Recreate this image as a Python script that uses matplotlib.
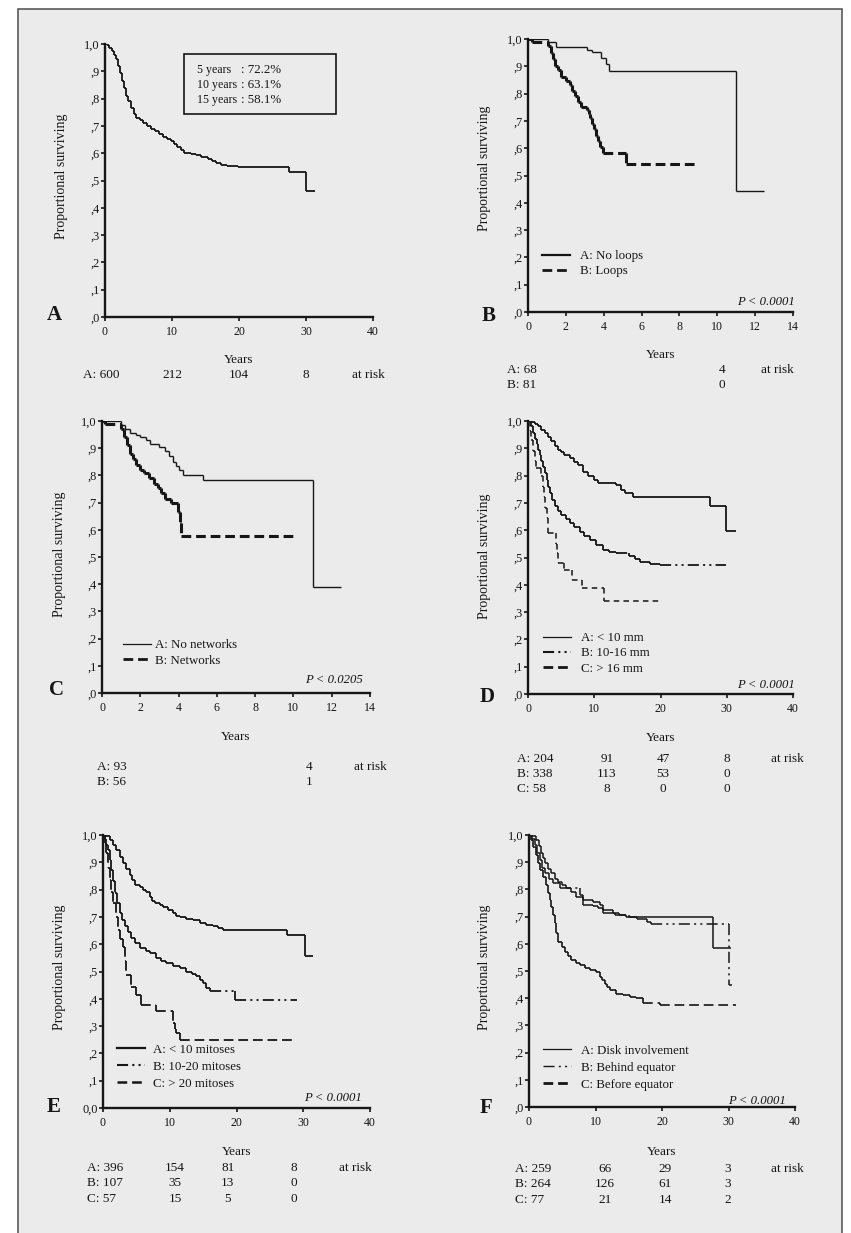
import matplotlib
matplotlib.use("Agg")
import matplotlib.pyplot as plt
from matplotlib.collections import LineCollection
from matplotlib.lines import Line2D
from matplotlib.patches import Rectangle

plt.rcParams['font.family'] = ['Liberation Serif', 'DejaVu Serif']
plt.rcParams['lines.scale_dashes'] = False

# ---------------- data ----------------
# Panel A: whole series
A_all_t = [0, 0.3, 0.6, 1.0, 1.3, 1.6, 2.0, 2.3, 2.6, 2.9, 3.2, 3.5, 3.9, 4.3, 4.7, 5.2, 5.7, 6.3, 6.9,
           7.5, 8.0, 8.6, 9.2, 9.8, 10.3, 10.8, 11.3, 11.8, 12.8, 13.6, 14.3, 15.3, 15.9, 16.6, 17.3,
           18.2, 19.0, 19.9, 27.4, 30.0, 31.3]
A_all_s = [1.0, 0.995, 0.985, 0.975, 0.96, 0.945, 0.92, 0.895, 0.865, 0.84, 0.81, 0.79, 0.765, 0.745,
           0.73, 0.72, 0.71, 0.70, 0.69, 0.68, 0.67, 0.66, 0.652, 0.643, 0.633, 0.622, 0.61, 0.60,
           0.597, 0.592, 0.585, 0.58, 0.572, 0.564, 0.558, 0.553, 0.552, 0.548, 0.532, 0.463, 0.463]
A_summary = ["5 years", "10 years", "15 years"]
A_summary_val = [": 72.2%", ": 63.1%", ": 58.1%"]

# Panel B: loops
B_noloops_t = [0, 1.07, 1.5, 3.1, 3.4, 3.85, 4.1, 4.3, 11.0, 12.45]
B_noloops_s = [1.0, 0.99, 0.972, 0.96, 0.951, 0.93, 0.91, 0.884, 0.444, 0.444]
B_loops_t = [0, 0.2, 1.07, 1.2, 1.3, 1.45, 1.6, 1.75, 2.0, 2.2, 2.35, 2.5, 2.65, 2.8, 3.1, 3.2, 3.3,
             3.4, 3.5, 3.6, 3.7, 3.8, 3.95, 5.2, 9.0]
B_loops_s = [1.0, 0.99, 0.975, 0.95, 0.925, 0.90, 0.885, 0.86, 0.845, 0.83, 0.81, 0.79, 0.77, 0.75,
             0.74, 0.725, 0.71, 0.69, 0.67, 0.645, 0.625, 0.605, 0.584, 0.542, 0.542]

# Panel C: networks
C_nonet_t = [0, 1.0, 1.2, 1.45, 1.75, 2.0, 2.3, 2.5, 3.0, 3.3, 3.5, 3.7, 3.85, 4.0, 4.25, 5.3, 11.04, 12.5]
C_nonet_s = [1.0, 0.985, 0.97, 0.955, 0.948, 0.94, 0.93, 0.915, 0.905, 0.89, 0.87, 0.85, 0.835, 0.82,
             0.80, 0.783, 0.391, 0.391]
C_net_t = [0, 0.15, 1.0, 1.15, 1.3, 1.45, 1.6, 1.8, 2.0, 2.2, 2.45, 2.7, 2.9, 3.1, 3.3, 3.6, 3.95,
           4.05, 4.15, 10.1]
C_net_s = [1.0, 0.99, 0.97, 0.94, 0.91, 0.88, 0.86, 0.84, 0.82, 0.81, 0.79, 0.77, 0.755, 0.735, 0.715,
           0.70, 0.665, 0.625, 0.579, 0.579]

# Panel D: tumour size
D_small_t = [0, 0.5, 1.0, 1.5, 2.0, 2.5, 3.0, 3.5, 4.0, 4.5, 5.0, 5.5, 6.3, 7.0, 7.5, 8.3, 9.0, 10.0,
             10.6, 13.3, 14.1, 14.6, 15.8, 27.4, 29.9, 31.4]
D_small_s = [1.0, 0.997, 0.99, 0.98, 0.967, 0.955, 0.94, 0.925, 0.91, 0.895, 0.885, 0.875, 0.863, 0.85,
             0.84, 0.815, 0.80, 0.785, 0.772, 0.766, 0.748, 0.735, 0.723, 0.687, 0.598, 0.598]
D_mid_t = [0, 0.4, 0.75, 1.0, 1.3, 1.5, 1.8, 2.0, 2.3, 2.5, 2.8, 3.0, 3.3, 3.6, 4.0, 4.5, 5.0, 5.7, 6.3,
           7.0, 7.8, 8.5, 9.3, 10.3, 11.3, 12.3, 13.3, 15.3, 16.2, 16.9, 18.4, 19.9, 29.9]
D_mid_s = [1.0, 0.98, 0.955, 0.935, 0.915, 0.895, 0.875, 0.855, 0.833, 0.81, 0.785, 0.76, 0.735, 0.71,
           0.687, 0.67, 0.656, 0.64, 0.626, 0.61, 0.595, 0.58, 0.565, 0.546, 0.528, 0.52, 0.516, 0.506,
           0.495, 0.485, 0.476, 0.473, 0.473]
D_large_t = [0, 0.25, 0.5, 0.75, 1.0, 1.26, 2.0, 2.2, 2.4, 2.6, 2.8, 3.0, 4.2, 4.45, 4.55, 5.38, 6.69,
             8.2, 11.4, 19.9]
D_large_s = [1.0, 0.965, 0.93, 0.89, 0.855, 0.827, 0.80, 0.76, 0.72, 0.68, 0.644, 0.589, 0.55, 0.516,
             0.479, 0.455, 0.418, 0.388, 0.341, 0.341]

# Panel E: mitoses
E_low_t = [0, 0.5, 1.0, 1.5, 2.0, 2.5, 3.0, 3.5, 4.0, 4.4, 4.75, 5.5, 6.0, 6.5, 7.0, 7.4, 7.75, 8.5, 9.0,
           9.8, 10.5, 11.0, 11.5, 12.5, 13.5, 14.5, 15.5, 16.5, 17.3, 18.0, 27.5, 30.25, 31.5]
E_low_s = [1.0, 0.995, 0.982, 0.965, 0.945, 0.92, 0.896, 0.875, 0.854, 0.835, 0.817, 0.81, 0.80, 0.79,
           0.774, 0.76, 0.75, 0.742, 0.735, 0.725, 0.713, 0.705, 0.698, 0.692, 0.689, 0.677, 0.672,
           0.665, 0.658, 0.652, 0.634, 0.555, 0.555]
E_mid_t = [0, 0.3, 0.5, 0.75, 1.0, 1.25, 1.5, 1.75, 2.1, 2.5, 2.9, 3.25, 3.7, 4.25, 4.8, 5.5, 6.5, 7.0,
           8.0, 8.7, 9.5, 10.5, 11.5, 12.5, 13.3, 14.0, 14.5, 15.0, 15.5, 16.0, 19.75, 29.0]
E_mid_s = [1.0, 0.985, 0.965, 0.945, 0.91, 0.872, 0.83, 0.787, 0.75, 0.713, 0.69, 0.665, 0.645, 0.622,
           0.605, 0.585, 0.575, 0.567, 0.549, 0.54, 0.53, 0.52, 0.512, 0.50, 0.49, 0.482, 0.47, 0.457,
           0.44, 0.427, 0.396, 0.396]
E_high_t = [0, 0.25, 0.5, 0.75, 1.0, 1.25, 1.5, 1.9, 2.25, 2.6, 3.0, 3.25, 3.5, 4.25, 5.0, 5.75, 8.0,
            10.5, 10.75, 11.0, 11.5, 28.5]
E_high_s = [1.0, 0.97, 0.933, 0.88, 0.835, 0.79, 0.75, 0.70, 0.652, 0.62, 0.591, 0.54, 0.488, 0.445,
            0.415, 0.378, 0.354, 0.311, 0.29, 0.274, 0.25, 0.25]

# Panel F: location
F_disk_t = [0, 0.5, 1.1, 1.5, 1.86, 2.1, 2.36, 2.8, 3.36, 3.9, 4.37, 5.0, 5.62, 6.3, 7.13, 8.13, 9.64,
            10.64, 11.14, 12.65, 13.5, 14.65, 27.6, 30.4]
F_disk_s = [1.0, 0.995, 0.982, 0.96, 0.933, 0.915, 0.896, 0.875, 0.859, 0.84, 0.828, 0.815, 0.804, 0.79,
            0.773, 0.761, 0.755, 0.742, 0.724, 0.714, 0.706, 0.699, 0.585, 0.585]
F_behind_t = [0, 0.4, 0.85, 1.2, 1.6, 2.0, 2.36, 3.0, 3.6, 4.6, 7.6, 8.1, 9.6, 10.4, 11.1, 13.0, 15.0,
              16.2, 17.7, 18.4, 30.1, 30.5]
F_behind_s = [1.0, 0.985, 0.963, 0.935, 0.908, 0.88, 0.859, 0.84, 0.822, 0.804, 0.779, 0.742, 0.739,
              0.73, 0.715, 0.705, 0.70, 0.693, 0.681, 0.671, 0.448, 0.448]
F_before_t = [0, 0.3, 0.6, 1.0, 1.36, 1.7, 2.1, 2.5, 2.86, 3.1, 3.36, 3.6, 3.86, 4.1, 4.37, 4.9, 5.37,
              5.9, 6.37, 7.0, 7.63, 8.4, 9.13, 10.14, 10.64, 11.0, 11.4, 11.8, 12.15, 13.15, 14.2,
              15.16, 16.16, 17.2, 19.7, 31.2]
F_before_s = [1.0, 0.98, 0.957, 0.925, 0.896, 0.87, 0.847, 0.815, 0.785, 0.76, 0.736, 0.705, 0.675,
              0.64, 0.607, 0.59, 0.571, 0.555, 0.54, 0.53, 0.521, 0.512, 0.503, 0.497, 0.479, 0.466,
              0.454, 0.44, 0.429, 0.417, 0.41, 0.405, 0.399, 0.383, 0.374, 0.374]

# labels
B_labels = ["A: No loops", "B: Loops"]
C_labels = ["A: No networks", "B: Networks"]
D_labels = ["A: < 10 mm", "B: 10-16 mm", "C: > 16 mm"]
E_labels = ["A: < 10 mitoses", "B: 10-20 mitoses", "C: > 20 mitoses"]
F_labels = ["A: Disk involvement", "B: Behind equator", "C: Before equator"]
p_values = {"B": "P < 0.0001", "C": "P < 0.0205", "D": "P < 0.0001", "E": "P < 0.0001", "F": "P < 0.0001"}

# numbers at risk
A_risk = [["A: 600", "212", "104", "8"]]
B_risk = [["A: 68", "4"], ["B: 81", "0"]]
C_risk = [["A: 93", "4"], ["B: 56", "1"]]
D_risk = [["A: 204", "91", "47", "8"], ["B: 338", "113", "53", "0"], ["C: 58", "8", "0", "0"]]
E_risk = [["A: 396", "154", "81", "8"], ["B: 107", "35", "13", "0"], ["C: 57", "15", "5", "0"]]
F_risk = [["A: 259", "66", "29", "3"], ["B: 264", "126", "61", "3"], ["C: 77", "21", "14", "2"]]

yticklabels = ["1,0", ",9", ",8", ",7", ",6", ",5", ",4", ",3", ",2", ",1", ",0"]

# ---------------- styling ----------------
W, H = 851, 1233
INK = "#161616"
DASH = (0, (7, 3.5))
SHORTDASH = (0, (4, 3))
DASHDOTDOT = (0, (8, 3, 1.5, 3, 1.5, 3))

fig = plt.figure(figsize=(W / 100, H / 100), dpi=100)
fig.patch.set_facecolor("white")
fig.patches.append(Rectangle((18 / W, -0.01), (842 - 18) / W, 1.01 - 9 / H, transform=fig.transFigure,
                             facecolor="#ebebeb", edgecolor="#5a5a5a", lw=1.2, zorder=-10))


def make_ax(box, xmax, xstep, ytick_first=",0"):
    x0, x1, y0, y1 = box
    ax = fig.add_axes([x0 / W, 1 - y1 / H, (x1 - x0) / W, (y1 - y0) / H])
    ax.set_zorder(1)
    ax.patch.set_alpha(0)
    ax.set_xlim(0, xmax)
    ax.set_ylim(0, 1)
    for s in ("top", "right"):
        ax.spines[s].set_visible(False)
    for s in ("left", "bottom"):
        ax.spines[s].set_linewidth(1.7)
        ax.spines[s].set_color(INK)
    ax.set_xticks(list(range(0, xmax + 1, xstep)))
    ax.set_yticks([i / 10 for i in range(11)])
    labs = yticklabels[::-1]
    labs[0] = ytick_first
    ax.set_yticklabels(labs)
    ax.tick_params(axis="y", direction="out", length=3, width=1.2, pad=1.0, labelsize=8.8, colors=INK)
    ax.tick_params(axis="x", direction="out", length=3, width=1.2, pad=3.5, labelsize=8.6, colors=INK)
    return ax


def km(ax, t, s, lw, ls):
    segs = []
    for i in range(len(t) - 1):
        segs.append([(t[i], s[i]), (t[i + 1], s[i])])
        if s[i + 1] != s[i]:
            segs.append([(t[i + 1], s[i]), (t[i + 1], s[i + 1])])
    lc = LineCollection(segs, colors=INK, linewidths=lw, linestyles=ls, capstyle="butt")
    ax.add_collection(lc)


def fy(box, ypx):
    x0, x1, y0, y1 = box
    return (y1 - ypx) / (y1 - y0)


def fx(box, xpx):
    x0, x1, y0, y1 = box
    return (xpx - x0) / (x1 - x0)


def decorate(ax, box, letter, letter_xy, ylab_xy, years_y, risk, first_x, xs, risk_label_x, rows_y):
    fig.text(letter_xy[0] / W, 1 - letter_xy[1] / H, letter, fontsize=15, fontweight="bold",
             ha="center", va="center", color=INK)
    ax.set_ylabel("Proportional surviving", fontsize=10, color=INK)
    ax.yaxis.set_label_coords(fx(box, ylab_xy[0]), fy(box, ylab_xy[1]))
    ax.text(0.5, fy(box, years_y), "Years", transform=ax.transAxes, ha="center", va="center",
            fontsize=9.5, color=INK)
    tr = ax.get_xaxis_transform()
    for r, row in enumerate(risk):
        yy = fy(box, rows_y[r])
        ax.text(first_x, yy, row[0], transform=tr, ha="left", va="center", fontsize=9.5, color=INK,
                clip_on=False)
        for v, xv in zip(row[1:], xs):
            ax.text(xv, yy, v, transform=tr, ha="center", va="center", fontsize=9.5, color=INK,
                    clip_on=False)
        if r == 0:
            ax.text(risk_label_x, yy, "at risk", transform=tr, ha="center", va="center", fontsize=9.5,
                    color=INK, clip_on=False)


def pval(ax, box, key, xpx, ypx):
    ax.text(fx(box, xpx), fy(box, ypx), p_values[key], transform=ax.transAxes, ha="right", va="center",
            fontsize=9.2, style="italic", color=INK)


def legend(ax, box, handles, labels, xpx, ytop_px, pad, spacing):
    ax.legend(handles, labels, loc="upper left", bbox_to_anchor=(fx(box, xpx), fy(box, ytop_px)),
              frameon=False, fontsize=9.3, handlelength=2.2, handletextpad=pad, borderpad=0,
              borderaxespad=0, labelspacing=spacing, labelcolor=INK)


def h(lw, ls):
    return Line2D([], [], color=INK, lw=lw, linestyle=ls)


# ---------------- Panel A ----------------
boxA = (105, 373, 44, 317)
axA = make_ax(boxA, 40, 10)
km(axA, A_all_t, A_all_s, 1.3, "solid")
axA.add_patch(Rectangle((fx(boxA, 184), fy(boxA, 114)), fx(boxA, 336) - fx(boxA, 184),
                        fy(boxA, 54) - fy(boxA, 114), transform=axA.transAxes, fill=False,
                        edgecolor=INK, lw=1.2))
for i, (lab, val) in enumerate(zip(A_summary, A_summary_val)):
    yy = fy(boxA, 70 + 15 * i)
    axA.text(fx(boxA, 197), yy, lab, transform=axA.transAxes, ha="left", va="center", fontsize=8.6,
             color=INK)
    axA.text(fx(boxA, 241), yy, val, transform=axA.transAxes, ha="left", va="center", fontsize=9.3,
             color=INK)
decorate(axA, boxA, "A", (54, 315), (68, 176), 360, A_risk, -3.3, [10.1, 20, 30], 39.3, [375])

# ---------------- Panel B ----------------
boxB = (528, 793, 39, 312)
axB = make_ax(boxB, 14, 2)
km(axB, B_noloops_t, B_noloops_s, 1.0, "solid")
km(axB, B_loops_t, B_loops_s, 2.2, DASH)
legend(axB, boxB, [h(1.6, "solid"), h(2.0, DASH)], B_labels, 542, 250, 0.78, 0.25)
pval(axB, boxB, "B", 795, 302)
decorate(axB, boxB, "B", (489, 316), (491, 168), 355, B_risk, -1.1, [10.25], 13.15, [370, 385])

# ---------------- Panel C ----------------
boxC = (102, 370, 421, 693)
axC = make_ax(boxC, 14, 2)
km(axC, C_nonet_t, C_nonet_s, 1.0, "solid")
km(axC, C_net_t, C_net_s, 2.2, DASH)
legend(axC, boxC, [h(0.9, "solid"), h(2.0, DASH)], C_labels, 123, 639, 0.3, 0.3)
pval(axC, boxC, "C", 363, 680)
decorate(axC, boxC, "C", (57, 690), (66.5, 554), 737, C_risk, -0.26, [10.8], 14.0, [767, 782])

# ---------------- Panel D ----------------
boxD = (528, 793, 421, 694)
axD = make_ax(boxD, 40, 10)
km(axD, D_small_t, D_small_s, 1.3, "solid")
km(axD, D_mid_t, D_mid_s, 1.3, DASHDOTDOT)
km(axD, D_large_t, D_large_s, 1.1, SHORTDASH)
legend(axD, boxD, [h(0.9, "solid"), h(1.5, DASHDOTDOT), h(2.0, DASH)], D_labels, 543, 632, 0.78, 0.25)
pval(axD, boxD, "D", 795, 685)
decorate(axD, boxD, "D", (487, 697), (491, 556), 738, D_risk, -1.66, [11.9, 20.4, 30.0], 39.1,
         [759, 774, 789])

# ---------------- Panel E ----------------
boxE = (103, 370, 835, 1108)
axE = make_ax(boxE, 40, 10, ytick_first="0,0")
km(axE, E_low_t, E_low_s, 1.3, "solid")
km(axE, E_mid_t, E_mid_s, 1.3, DASHDOTDOT)
km(axE, E_high_t, E_high_s, 1.3, DASH)
legend(axE, boxE, [h(1.6, "solid"), h(1.5, DASHDOTDOT), h(1.8, DASH)], E_labels, 117, 1043.5, 0.55, 0.4)
pval(axE, boxE, "E", 362, 1098)
decorate(axE, boxE, "E", (54, 1107), (66, 967), 1152, E_risk, -2.4, [10.8, 18.7, 28.6], 37.8,
         [1168, 1183, 1199])

# ---------------- Panel F ----------------
boxF = (529, 795, 835, 1107)
axF = make_ax(boxF, 40, 10)
km(axF, F_disk_t, F_disk_s, 1.1, "solid")
km(axF, F_behind_t, F_behind_s, 1.1, DASHDOTDOT)
km(axF, F_before_t, F_before_s, 1.2, DASH)
legend(axF, boxF, [h(0.9, "solid"), h(1.0, DASHDOTDOT), h(2.0, DASH)], F_labels, 543, 1044.5, 0.78, 0.4)
pval(axF, boxF, "F", 786, 1101)
decorate(axF, boxF, "F", (486, 1108), (491, 967), 1152, F_risk, -2.1, [11.4, 20.5, 29.9], 38.8,
         [1169, 1184, 1200])

fig.savefig("out.png", dpi=100, facecolor=fig.get_facecolor())
